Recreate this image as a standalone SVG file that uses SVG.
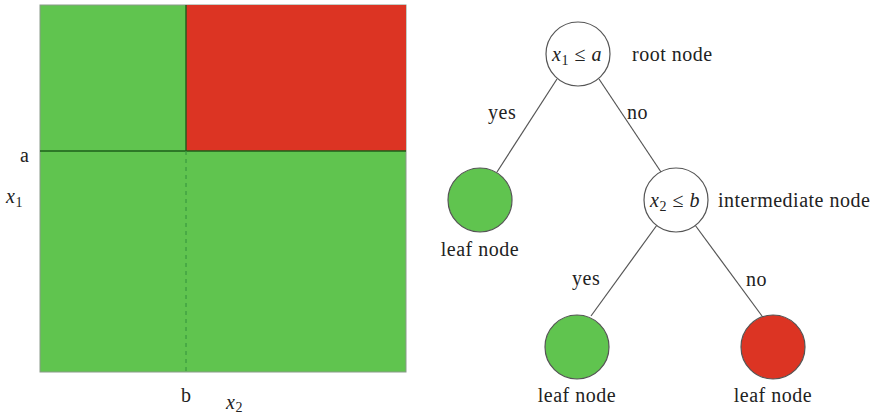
<svg xmlns="http://www.w3.org/2000/svg" width="880" height="416" viewBox="0 0 880 416">
<style>
text{font-family:'Liberation Serif','DejaVu Serif',serif;font-size:20px;letter-spacing:0.5px;fill:#222}
.m{font-style:italic;letter-spacing:0.5px}
.sub{font-size:14px;font-style:normal}
.edge{stroke:#555;stroke-width:1.2;fill:none}
.node{stroke:#555;stroke-width:1.2}
</style>
<rect width="880" height="416" fill="#fff"/>
<g id="plot">
<rect x="40" y="5" width="366" height="367" fill="#60c44f" stroke="#8a9a8a" stroke-width="1"/>
<rect x="186" y="5" width="220" height="146" fill="#dc3423"/>
<line x1="40" y1="151" x2="406" y2="151" stroke="#1d5f1a" stroke-width="1.6"/>
<line x1="186" y1="5" x2="186" y2="151" stroke="#1d5f1a" stroke-width="1.4"/>
<line x1="186" y1="151" x2="186" y2="372" stroke="#3a9a40" stroke-width="1.2" stroke-dasharray="4,4"/>
<text x="20" y="162">a</text>
<text x="6" y="203" class="m">x<tspan class="sub" dy="4">1</tspan></text>
<text x="181" y="402">b</text>
<text x="226" y="409" class="m">x<tspan class="sub" dy="3">2</tspan></text>
</g>
<g id="connectors">
<line class="edge" x1="557" y1="79" x2="497" y2="172"/>
<line class="edge" x1="599" y1="79" x2="661" y2="172"/>
<line class="edge" x1="657" y1="225" x2="591" y2="316"/>
<line class="edge" x1="695" y1="225" x2="762" y2="316"/>
<text x="488" y="119">yes</text>
<text x="627" y="119">no</text>
<text x="572" y="285">yes</text>
<text x="746" y="286">no</text>
</g>
<g id="root">
<circle class="node" cx="578" cy="54" r="32" fill="#fff"/>
<text x="577" y="61" text-anchor="middle" class="m">x<tspan class="sub" dy="4">1</tspan><tspan dy="-4" font-style="normal"> ≤ </tspan>a</text>
<text x="632" y="61">root node</text>
</g>
<g id="leaf1">
<circle class="node" cx="480" cy="200" r="32" fill="#60c44f"/>
<text x="480" y="256" text-anchor="middle">leaf node</text>
</g>
<g id="intermediate">
<circle class="node" cx="676" cy="200" r="32" fill="#fff"/>
<text x="675" y="207" text-anchor="middle" class="m">x<tspan class="sub" dy="4">2</tspan><tspan dy="-4" font-style="normal"> ≤ </tspan>b</text>
<text x="718" y="207" letter-spacing="0.9">intermediate node</text>
</g>
<g id="leaf2">
<circle class="node" cx="577" cy="347" r="32" fill="#60c44f"/>
<text x="577" y="402" text-anchor="middle">leaf node</text>
</g>
<g id="leaf3">
<circle class="node" cx="773" cy="347" r="32" fill="#dc3423"/>
<text x="773" y="402" text-anchor="middle">leaf node</text>
</g>
</svg>
